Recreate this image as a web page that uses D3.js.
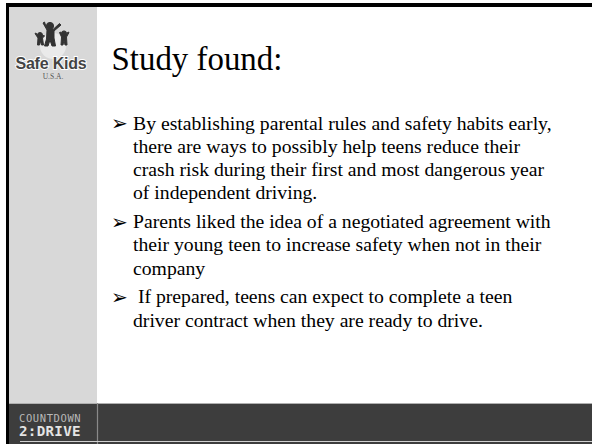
<!DOCTYPE html>
<html>
<head>
<meta charset="utf-8">
<script src="https://cdn.jsdelivr.net/npm/d3@7"></script>
<style>
  html, body { margin: 0; padding: 0; background: #fff; }
  svg { display: block; }
</style>
</head>
<body>
<svg id="slide" width="592" height="444"></svg>
<script>
// slide text
const titleText = 'Study found:';
const bulletLines = [
  ['By establishing parental rules and safety habits early,',
   'there are ways to possibly help teens reduce their',
   'crash risk during their first and most dangerous year',
   'of independent driving.'],
  ['Parents liked the idea of a negotiated agreement with',
   'their young teen to increase safety when not in their',
   'company'],
  ['\u00a0If prepared, teens can expect to complete a teen',
   'driver contract when they are ready to drive.']
];
const logoWords = ['Safe Kids', 'U.S.A.'];
const footerWords = ['COUNTDOWN', '2:DRIVE'];

const width = 592, height = 444;
const svg = d3.select('#slide');

// frame
const sideW = 97, footY = 403;
svg.append('rect').attr('x', 6).attr('y', 3).attr('width', width - 6).attr('height', height - 3).attr('fill', '#000');
svg.append('rect').attr('x', 9).attr('y', 7).attr('width', width - 9).attr('height', footY - 7).attr('fill', '#fff');
svg.append('rect').attr('x', 9).attr('y', 7).attr('width', sideW - 9).attr('height', footY - 7).attr('fill', '#d8d8d8');

// footer band
svg.append('rect').attr('x', 9).attr('y', footY).attr('width', width - 9).attr('height', height - footY).attr('fill', '#3d3d3d');
svg.append('line').attr('x1', 9).attr('x2', width).attr('y1', footY + 0.5).attr('y2', footY + 0.5)
  .attr('stroke', '#b0b0b0').attr('stroke-width', 1);
svg.append('line').attr('x1', sideW + 0.5).attr('x2', sideW + 0.5).attr('y1', footY).attr('y2', height)
  .attr('stroke', '#8a8a8a').attr('stroke-width', 1.2);
svg.append('line').attr('x1', 20).attr('x2', width).attr('y1', 441.5).attr('y2', 441.5)
  .attr('stroke', '#d0d0d0').attr('stroke-width', 1);

svg.append('text').attr('x', 19).attr('y', 422)
  .attr('font-family', 'DejaVu Sans Mono').attr('font-size', 10.5).attr('letter-spacing', 0.6)
  .attr('fill', '#b8b8b8').text(footerWords[0]);
svg.append('text').attr('x', 19).attr('y', 435.5)
  .attr('font-family', 'DejaVu Sans Mono').attr('font-weight', 'bold').attr('font-size', 14.2).attr('letter-spacing', 0.3)
  .attr('fill', '#e4e4e4').text(footerWords[1]);

// logo
const logo = svg.append('g');
logo.append('circle').attr('cx', 53).attr('cy', 46).attr('r', 13).attr('fill', '#eaeaea');
const ink = '#333';
const figs = logo.append('g').attr('fill', ink).attr('stroke', ink).attr('stroke-width', 1).attr('stroke-linejoin', 'round');
// big figure
figs.append('circle').attr('cx', 50).attr('cy', 26).attr('r', 3.6);
figs.append('path').attr('d', 'M43,23 L47,30 L46.5,39 L44.5,46 L48,46 L50,40 L52,46 L55.5,46 L54,38 L54,31 L61,25 L59.5,23.5 L53,29.5 L47,29.5 L44.5,22 Z');
// left small figure
figs.append('circle').attr('cx', 40).attr('cy', 35).attr('r', 2.5);
figs.append('path').attr('d', 'M35,33.5 L38,38 L37.5,45 L39.5,45 L40.5,41 L41.5,45 L43.5,45 L42.5,38 L44.5,36 L43.5,35 L41.5,37 L38.5,37 L36,33 Z');
// right small figure
figs.append('circle').attr('cx', 64).attr('cy', 33.5).attr('r', 2.6);
figs.append('path').attr('d', 'M59.5,32.5 L61.5,37 L61,45 L63,45 L64,40.5 L65,45 L67,45 L66.5,37 L69,32.5 L68,32 L65.5,36 L62.5,36 L60.5,32 Z');

logo.append('text').attr('x', 51).attr('y', 69).attr('text-anchor', 'middle')
  .attr('font-family', 'Liberation Sans').attr('font-weight', 'bold').attr('font-size', 16)
  .attr('letter-spacing', -0.2)
  .attr('fill', '#444').attr('stroke', '#ffffff').attr('stroke-width', 1.8).attr('paint-order', 'stroke')
  .text(logoWords[0]);
logo.append('text').attr('x', 53).attr('y', 78.5).attr('text-anchor', 'middle')
  .attr('font-family', 'Liberation Serif').attr('font-size', 7.5)
  .attr('fill', '#555').text(logoWords[1]);

// title
svg.append('text').attr('x', 111.5).attr('y', 69.5)
  .attr('font-family', 'Liberation Serif').attr('font-size', 32.9)
  .attr('fill', '#000').text(titleText);

// bullets
const lineH = 23.3, paraGap = 5.4, firstBase = 129.5;
let rows = [];
let yPos = firstBase;
bulletLines.forEach((para, pi) => {
  para.forEach((line, li) => {
    rows.push({ text: line, y: yPos, first: li === 0 });
    yPos += lineH;
  });
  yPos += paraGap;
});

const body = svg.append('g').attr('font-family', 'Liberation Serif').attr('font-size', 19.7).attr('fill', '#000');
body.selectAll('text.line')
  .data(rows)
  .join('text')
  .attr('class', 'line')
  .attr('x', 133)
  .attr('y', d => d.y)
  .text(d => d.text);
body.selectAll('text.bullet')
  .data(rows.filter(d => d.first))
  .join('text')
  .attr('class', 'bullet')
  .attr('x', 111)
  .attr('y', d => d.y + 0.5)
  .attr('font-family', 'DejaVu Sans')
  .attr('font-size', 20)
  .text('\u27a2');
</script>
</body>
</html>
